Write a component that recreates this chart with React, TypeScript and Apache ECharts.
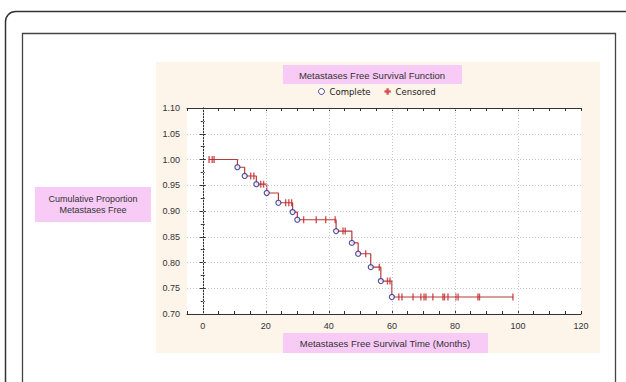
import React, { useEffect, useRef } from "react";
import * as echarts from "echarts";

// Kaplan–Meier curve: event (complete) times and survival after each event
const eventTimes = [11, 13.3, 17, 20.3, 24, 28.5, 30, 42.3, 47.3, 49.3, 53.3, 56.5, 60];
const eventSurvival = [0.985, 0.968, 0.952, 0.935, 0.916, 0.898, 0.883, 0.861, 0.838, 0.817, 0.791, 0.764, 0.733];

// Censored observations
const censoredTimes = [
  2, 3, 3.6, 15.2, 16.2, 18.4, 19.3, 26.3, 27.3, 28.2, 32, 36, 39, 42, 44.5, 45.2, 51.7, 56,
  58.6, 59.4, 62.2, 63.2, 66.7, 69.2, 70.2, 70.8, 73, 76.2, 76.7, 77.8, 80.3, 81, 87.3, 87.8, 98.4,
];
const censoredSurvival = [
  1.0, 1.0, 1.0, 0.968, 0.968, 0.952, 0.952, 0.916, 0.916, 0.916, 0.883, 0.883, 0.883, 0.883, 0.861, 0.861,
  0.817, 0.791, 0.764, 0.764, 0.733, 0.733, 0.733, 0.733, 0.733, 0.733, 0.733, 0.733, 0.733, 0.733, 0.733,
  0.733, 0.733, 0.733, 0.733,
];

const curveStart = [2, 1.0];
const curveEndTime = 98.5;

const xGridValues = [0, 20, 40, 60, 80, 100];
const xLabelValues = [0, 20, 40, 60, 80, 100, 120];

const titleText = "Metastases Free Survival Function";
const xTitle = "Metastases Free Survival Time (Months)";
const yTitleLines = ["Cumulative Proportion", "Metastases Free"];

const LINE = "#b83a3a";
const CENS = "#c4282c";
const NAVY = "#2a2a8c";
const PINK = "#f8caf6";
const BEIGE = "#fdf4ea";
const FONT = "Liberation Sans, Arial, sans-serif";

export default function App() {
  const ref = useRef<HTMLDivElement>(null);
  useEffect(() => {
    const chart = echarts.init(ref.current!, null, { renderer: "svg" });
    const curve: number[][] = [curveStart];
    eventTimes.forEach((t, i) => curve.push([t, eventSurvival[i]]));
    curve.push([curveEndTime, eventSurvival[eventSurvival.length - 1]]);
    const events = eventTimes.map((t, i) => [t, eventSurvival[i]]);
    const cens = censoredTimes.map((t, i) => [t, censoredSurvival[i]]);

    const axisLine = { show: true, lineStyle: { color: "#333", width: 1 } };
    const option: any = {
      animation: false,
      backgroundColor: "#fff",
      textStyle: { fontFamily: FONT },
      graphic: [
        {
          type: "rect",
          z: -10,
          shape: { x: 5.5, y: 11.5, width: 640, height: 400, r: 10 },
          style: { fill: "none", stroke: "#333", lineWidth: 1.5 },
        },
        {
          type: "rect",
          z: -10,
          shape: { x: 22.5, y: 33.5, width: 593, height: 400 },
          style: { fill: "none", stroke: "#444", lineWidth: 1.3 },
        },
        {
          type: "rect",
          z: -9,
          shape: { x: 156, y: 62, width: 444, height: 291 },
          style: { fill: BEIGE },
        },
        { type: "rect", z: -8, shape: { x: 283, y: 65, width: 179, height: 19 }, style: { fill: PINK } },
        { type: "rect", z: -8, shape: { x: 283, y: 333, width: 205, height: 20 }, style: { fill: PINK } },
        { type: "rect", z: -8, shape: { x: 35, y: 187, width: 116, height: 35 }, style: { fill: PINK } },
        {
          type: "text",
          x: 372,
          y: 75,
          style: { text: titleText, fill: "#333", font: `9.5px ${FONT}`, textAlign: "center", textVerticalAlign: "middle" },
        },
        {
          type: "text",
          x: 385,
          y: 343,
          style: { text: xTitle, fill: "#333", font: `9.5px ${FONT}`, textAlign: "center", textVerticalAlign: "middle" },
        },
        {
          type: "text",
          x: 93,
          y: 199,
          style: { text: yTitleLines[0], fill: "#333", font: `9px ${FONT}`, textAlign: "center", textVerticalAlign: "middle" },
        },
        {
          type: "text",
          x: 93,
          y: 210,
          style: { text: yTitleLines[1], fill: "#333", font: `9px ${FONT}`, textAlign: "center", textVerticalAlign: "middle" },
        },
      ],
      legend: {
        left: 318,
        top: 87,
        itemWidth: 6,
        itemHeight: 6,
        itemGap: 14,
        padding: 0,
        textStyle: { fontSize: 8.5, color: "#222", fontFamily: "DejaVu Sans, sans-serif" },
        data: [
          { name: "Complete", icon: "circle", itemStyle: { color: "#fff", borderColor: NAVY, borderWidth: 1 } },
          {
            name: "Censored",
            icon: "path://M3,0h3v3h3v3h-3v3h-3v-3h-3v-3h3z",
            itemStyle: { color: CENS, borderColor: CENS, borderWidth: 0.3 },
          },
        ],
      },
      grid: {
        left: 187,
        top: 108,
        right: 45,
        bottom: 68,
        show: true,
        backgroundColor: "#fff",
        borderWidth: 0,
      },
      xAxis: [
        {
          type: "value",
          min: -5,
          max: 120,
          interval: 5,
          axisLine,
          axisTick: { show: true, inside: true, length: 3, lineStyle: { color: "#333" } },
          axisLabel: {
            color: "#333",
            fontSize: 9,
            margin: 7,
            formatter: (v: number) => (xLabelValues.indexOf(v) >= 0 ? String(v) : ""),
          },
          splitLine: { show: false },
        },
        {
          type: "value",
          position: "top",
          min: -5,
          max: 120,
          interval: 5,
          axisLine,
          axisTick: { show: true, inside: true, length: 3, lineStyle: { color: "#333" } },
          axisLabel: { show: false },
          splitLine: { show: false },
        },
      ],
      yAxis: [
        {
          type: "value",
          min: 0.7,
          max: 1.1,
          interval: 0.05,
          axisLine,
          axisTick: { show: true, inside: true, length: 3, lineStyle: { color: "#333" } },
          minorTick: { show: true, splitNumber: 2, length: 2, lineStyle: { color: "#333" } },
          axisLabel: { color: "#333", fontSize: 9, margin: 7, formatter: (v: number) => v.toFixed(2) },
          splitLine: { show: true, lineStyle: { color: "#c8c8c8", type: [1, 2], width: 1 } },
        },
        {
          type: "value",
          position: "right",
          min: 0.7,
          max: 1.1,
          interval: 0.05,
          axisLine,
          axisTick: { show: true, inside: true, length: 3, lineStyle: { color: "#333" } },
          minorTick: { show: true, splitNumber: 2, length: 2, lineStyle: { color: "#333" } },
          axisLabel: { show: false },
          splitLine: { show: false },
        },
      ],
      series: [
        {
          name: "gridlines",
          type: "line",
          data: [],
          silent: true,
          markLine: {
            silent: true,
            symbol: "none",
            label: { show: false },
            lineStyle: { color: "#c8c8c8", type: [1, 2], width: 1 },
            data: xGridValues.map((v) => ({ xAxis: v })),
          },
        },
        {
          name: "Survival",
          type: "line",
          step: "end",
          data: curve,
          showSymbol: false,
          symbol: "none",
          lineStyle: { color: LINE, width: 1.2 },
          z: 3,
        },
        {
          name: "Censored",
          type: "scatter",
          data: cens,
          symbol: "path://M0,0H1V8H0Z",
          symbolSize: [1.4, 7],
          itemStyle: { color: CENS },
          z: 4,
        },
        {
          name: "Complete",
          type: "scatter",
          data: events,
          symbol: "circle",
          symbolSize: 5,
          itemStyle: { color: "#fff", borderColor: NAVY, borderWidth: 1.2 },
          z: 5,
        },
      ],
    };
    chart.setOption(option);
    return () => chart.dispose();
  }, []);
  return (
    <div
      ref={ref}
      style={{ position: "fixed", left: 0, top: 0, width: 626, height: 382, background: "#fff" }}
    />
  );
}
